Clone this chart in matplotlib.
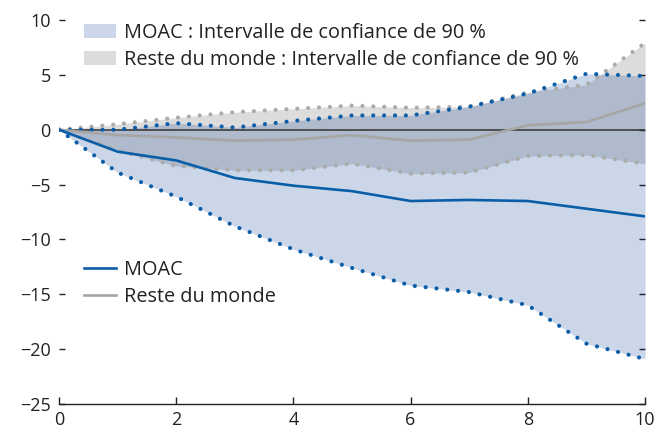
import numpy as np
import matplotlib
matplotlib.use("Agg")
import matplotlib.pyplot as plt
from matplotlib.patches import Patch
from matplotlib.lines import Line2D

plt.rcParams['font.family'] = ['Open Sans', 'DejaVu Sans']

# horizon (x axis)
horizon = [0, 1, 2, 3, 4, 5, 6, 7, 8, 9, 10]

# MOAC
moac = [0, -2.0, -2.8, -4.4, -5.1, -5.6, -6.5, -6.4, -6.5, -7.2, -7.9]
moac_up = [0, 0.0, 0.6, 0.2, 0.8, 1.3, 1.3, 2.1, 3.3, 5.1, 4.9]
moac_lo = [0, -3.9, -6.1, -8.8, -10.9, -12.6, -14.2, -14.8, -16.0, -19.5, -20.9]

# Reste du monde
row = [0, -0.5, -0.7, -1.0, -0.9, -0.5, -1.0, -0.9, 0.4, 0.7, 2.4]
row_up = [0, 0.5, 1.1, 1.6, 1.9, 2.2, 2.0, 2.1, 3.4, 4.1, 7.9]
row_lo = [0, -1.9, -3.3, -3.7, -3.7, -3.1, -4.0, -3.9, -2.4, -2.3, -3.1]

blue = '#0a5ea8'
grey = '#a6a6a6'
grey_dot = '#ababab'

fig = plt.figure(figsize=(6.66, 4.33), dpi=100)
ax = fig.add_axes([59/666, 1 - 404/433, (645-59)/666, (404-20)/433])

# bands: grey opaque, blue translucent on top (gives the darker overlap)
ax.fill_between(horizon, row_lo, row_up, color='#dcdcdc', lw=0, zorder=1)
ax.fill_between(horizon, moac_lo, moac_up, color=(0, 50/255, 145/255), alpha=0.2, lw=0, zorder=2)

ax.axhline(0, color='#333333', lw=1.1, zorder=3)

dot = dict(lw=3.0, linestyle=(0, (0.01, 2.6)), dash_capstyle='round', zorder=4)
ax.plot(horizon, row_up, color=grey_dot, **dot)
ax.plot(horizon, row_lo, color=grey_dot, **dot)
ax.plot(horizon, moac_up, color=blue, **dot)
ax.plot(horizon, moac_lo, color=blue, **dot)

ax.plot(horizon, row, color=grey, lw=1.9, zorder=5)
ax.plot(horizon, moac, color=blue, lw=1.9, zorder=6)

ax.set_xlim(0, 10)
ax.set_ylim(-25, 10)
ax.set_xticks([0, 2, 4, 6, 8, 10])
ax.set_yticks([10, 5, 0, -5, -10, -15, -20, -25])
ax.set_yticklabels(['10', '5', '0', '\u22125', '\u221210', '\u221215', '\u221220', '\u221225'])

for s in ['top', 'left', 'right']:
    ax.spines[s].set_visible(False)
ax.spines['bottom'].set_color('#222222')
ax.spines['bottom'].set_linewidth(1.0)

ax.tick_params(axis='x', direction='in', length=5, width=1, color='#222222',
               labelsize=13, labelcolor='#222222', pad=5)
ax.tick_params(axis='y', direction='in', length=4, width=1, color='#222222',
               labelsize=13, labelcolor='#222222', pad=6, right=True)

h1 = [Patch(color='#ccd6e9', lw=0), Patch(color='#dcdcdc', lw=0)]
leg1 = ax.legend(h1, ['MOAC : Intervalle de confiance de 90 %',
                      'Reste du monde : Intervalle de confiance de 90 %'],
                 loc='upper left', bbox_to_anchor=(0.043, 0.992), frameon=False,
                 fontsize=14.3, handlelength=1.62, handleheight=0.72, handletextpad=0.4,
                 labelspacing=0.33, borderpad=0.0, borderaxespad=0.0,
                 labelcolor='#222222')
ax.add_artist(leg1)

h2 = [Line2D([], [], color=blue, lw=1.9), Line2D([], [], color=grey, lw=1.9)]
ax.legend(h2, ['MOAC', 'Reste du monde'], loc='upper left',
          bbox_to_anchor=(0.043, 0.375), frameon=False, fontsize=14.3,
          handlelength=1.62, handletextpad=0.4, labelspacing=0.33,
          borderpad=0.0, borderaxespad=0.0, labelcolor='#222222')

fig.savefig('out.png', dpi=100)
